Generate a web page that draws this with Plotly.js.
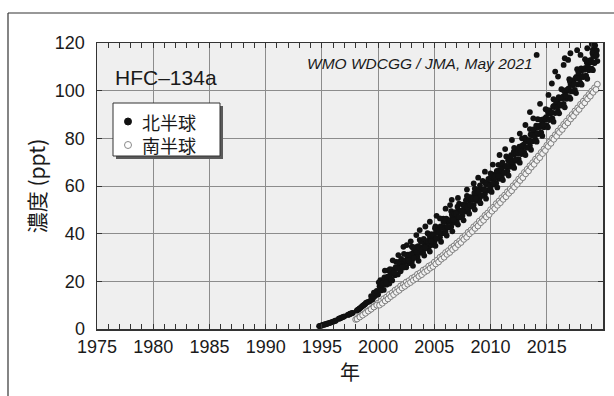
<!DOCTYPE html>
<html>
<head>
<meta charset="utf-8">
<script src="https://cdn.plot.ly/plotly-3.0.1.min.js"></script>
<style>html,body{margin:0;padding:0;background:#fff;}#chart{width:614px;height:396px;}</style>
</head>
<body>
<div id="chart"></div>
<script>
// ---- Data (years, ppt) ----
// Northern hemisphere: core station series
var nhAYear = [1994.75,1994.92,1995.08,1995.25,1995.42,1995.58,1995.75,1995.92,1996.08,1996.25,1996.5,1996.67,1996.83,1997.0,1997.3,1997.45,1997.6,1997.75,1998.1,1998.25,1998.4,1998.55,1998.7,1998.85,1999.0,
1999.25,1999.5,1999.75,2000.0,2000.25,2000.5,2000.75,2001.0,2001.25,2001.5,2001.75,2002.0,2002.25,2002.5,2002.75,2003.0,2003.25,2003.5,2003.75,2004.0,2004.25,2004.5,2004.75,2005.0,2005.25,2005.5,2005.75,2006.0,2006.25,2006.5,2006.75,2007.0,2007.25,2007.5,2007.75,2008.0,2008.25,2008.5,2008.75,2009.0,2009.25,2009.5,2009.75,2010.0,2010.25,2010.5,2010.75,2011.0,2011.25,2011.5,2011.75,2012.0,2012.25,2012.5,2012.75,2013.0,2013.25,2013.5,2013.75,2014.0,2014.25,2014.5,2014.75,2015.0,2015.25,2015.5,2015.75,2016.0,2016.25,2016.5,2016.75,2017.0,2017.25,2017.5,2017.75,2018.0,2018.25,2018.5,2018.75,2019.0,2019.25,2019.5];
var nhAVal = [1.2,1.4,1.7,1.9,2.1,2.4,2.7,2.9,3.2,3.6,4.3,4.6,5.0,5.3,5.9,6.2,6.5,6.8,7.7,8.2,8.8,9.4,10.0,10.5,11.2,
11.6,12.4,13.9,14.5,16.2,16.4,18.6,19.1,20.4,22.6,22.9,24.2,25.8,25.9,27.6,28.3,30.1,30.2,31.9,32.1,33.8,34.3,35.2,36.4,37.9,38.5,40.2,40.8,42.6,42.9,44.6,45.3,46.9,47.5,49.3,49.8,51.4,52.0,53.8,54.3,55.9,56.6,58.1,58.7,60.6,61.2,63.0,63.6,65.5,66.2,68.1,68.6,70.6,71.3,73.4,74.0,76.1,76.9,78.8,79.4,81.8,82.5,84.7,85.4,87.8,88.4,90.6,91.3,93.7,94.4,96.6,97.3,99.7,100.3,102.6,103.2,105.7,106.3,108.6,109.2,111.6,112.4];
// Early record, in-between samples
var nhEarlyYear = [1994.83,1995.0,1995.17,1995.33,1995.5,1995.67,1995.83,1996.0,1996.17,1996.58,1996.75,1996.92,1997.38,1997.52,1997.68,1998.17,1998.33,1998.48,1998.62,1998.78,1998.92,1999.12,1999.38,1999.62,1999.88];
var nhEarlyVal = [1.3,1.5,1.8,2.0,2.3,2.5,2.8,3.1,3.4,4.4,4.8,5.1,6.0,6.4,6.7,8.0,8.5,9.1,9.7,10.2,10.9,11.4,12.2,13.4,14.6];
// Northern hemisphere: second station
var nhBYear = [1999.375,1999.625,1999.875,2000.125,2000.375,2000.625,2000.875,2001.125,2001.375,2001.625,2001.875,2002.125,2002.375,2002.625,2002.875,2003.125,2003.375,2003.625,2003.875,2004.125,2004.375,2004.625,2004.875,2005.125,2005.375,2005.625,2005.875,2006.125,2006.375,2006.625,2006.875,2007.125,2007.375,2007.625,2007.875,2008.125,2008.375,2008.625,2008.875,2009.125,2009.375,2009.625,2009.875,2010.125,2010.375,2010.625,2010.875,2011.125,2011.375,2011.625,2011.875,2012.125,2012.375,2012.625,2012.875,2013.125,2013.375,2013.625,2013.875,2014.125,2014.375,2014.625,2014.875,2015.125,2015.375,2015.625,2015.875,2016.125,2016.375,2016.625,2016.875,2017.125,2017.375,2017.625,2017.875,2018.125,2018.375,2018.625,2018.875,2019.125,2019.375];
var nhBVal = [13.8,15.3,16.0,17.9,18.4,20.5,20.9,23.0,23.4,25.3,25.7,27.8,28.0,29.9,30.2,32.0,32.3,34.1,34.2,36.1,36.3,38.2,38.3,40.3,40.6,42.5,42.8,44.9,45.0,47.1,47.3,49.4,49.6,51.7,51.9,53.9,54.1,56.2,56.3,58.5,58.6,60.7,60.9,63.0,63.3,65.6,65.8,68.1,68.3,70.7,70.8,73.3,73.6,76.0,76.3,78.9,79.1,81.7,81.9,84.5,84.8,87.6,87.9,90.6,90.8,93.6,93.9,96.7,96.8,99.7,99.9,102.7,102.8,105.8,105.9,108.8,108.9,111.8,111.9,114.8,115.0];
// Northern hemisphere: third (higher) station
var nhCYear = [2000.2,2000.55,2000.9,2001.25,2001.6,2001.95,2002.3,2002.65,2003.0,2003.35,2003.7,2004.05,2004.4,2004.75,2005.1,2005.45,2005.8,2006.15,2006.5,2006.85,2007.2,2007.55,2007.9,2008.25,2008.6,2008.95,2009.3,2009.65,2010.0,2010.35,2010.7,2011.05,2011.4,2011.75,2012.1,2012.45,2012.8,2013.15,2013.5,2013.85,2014.2,2014.55,2014.9,2015.25,2015.6,2015.95,2016.3,2016.65,2017.0,2017.35,2017.7,2018.05,2018.4,2018.75,2019.1,2019.45];
var nhCVal = [20.5,21.0,24.6,24.9,28.2,28.0,31.5,31.2,34.6,34.3,37.4,37.0,40.2,39.8,43.0,42.6,46.3,45.9,49.4,49.0,52.6,52.2,55.8,55.3,58.9,58.5,62.1,61.6,65.3,64.9,68.9,68.4,72.4,71.9,76.0,75.6,80.0,79.5,83.9,83.4,88.0,87.6,92.2,91.7,96.4,95.9,100.6,100.1,104.8,104.3,109.0,108.4,113.2,112.6,117.3,116.9];
// Northern hemisphere: lower station
var nhDYear = [2003.1,2003.6,2004.1,2004.6,2005.1,2005.6,2006.1,2006.6,2007.1,2007.6,2008.1,2008.6,2009.1,2009.6,2010.1,2010.6,2011.1,2011.6,2012.1,2012.6,2013.1,2013.6,2014.1,2014.6,2015.1,2015.6,2016.1,2016.6,2017.1,2017.6,2018.1,2018.6,2019.1];
var nhDVal = [26.5,28.6,30.8,32.5,34.9,36.6,39.2,41.0,43.8,45.6,48.4,50.1,52.8,54.7,57.5,59.4,62.5,64.4,67.6,69.8,73.0,75.2,78.6,81.0,84.6,87.0,90.5,93.0,96.6,99.0,102.5,105.0,108.6];
// Northern hemisphere: fourth station
var nhEYear = [2000.06,2000.31,2000.56,2000.81,2001.06,2001.31,2001.56,2001.81,2002.06,2002.31,2002.56,2002.81,2003.06,2003.31,2003.56,2003.81,2004.06,2004.31,2004.56,2004.81,2005.06,2005.31,2005.56,2005.81,2006.06,2006.31,2006.56,2006.81,2007.06,2007.31,2007.56,2007.81,2008.06,2008.31,2008.56,2008.81,2009.06,2009.31,2009.56,2009.81,2010.06,2010.31,2010.56,2010.81,2011.06,2011.31,2011.56,2011.81,2012.06,2012.31,2012.56,2012.81,2013.06,2013.31,2013.56,2013.81,2014.06,2014.31,2014.56,2014.81,2015.06,2015.31,2015.56,2015.81,2016.06,2016.31,2016.56,2016.81,2017.06,2017.31,2017.56,2017.81,2018.06,2018.31,2018.56,2018.81,2019.06,2019.31];
var nhEVal = [19.6,18.9,21.6,21.9,25.1,23.3,26.0,28.0,29.4,28.5,31.1,31.2,34.3,32.3,34.8,36.6,37.8,36.8,39.3,39.3,42.3,40.5,43.1,45.0,46.3,45.4,48.0,48.2,51.3,49.5,52.1,54.0,55.3,54.5,57.1,57.2,60.3,58.4,61.0,63.0,64.3,63.6,66.3,66.6,69.8,68.1,70.8,72.9,74.3,73.7,76.5,76.9,80.3,78.7,81.6,83.8,85.3,84.8,87.8,88.3,91.8,90.3,93.3,95.6,97.3,96.8,99.8,100.3,103.8,102.3,105.3,107.6,109.3,108.8,111.8,112.3,115.8,114.3];
// Northern hemisphere: fifth station
var nhFYear = [2000.19,2000.44,2000.69,2000.94,2001.19,2001.44,2001.69,2001.94,2002.19,2002.44,2002.69,2002.94,2003.19,2003.44,2003.69,2003.94,2004.19,2004.44,2004.69,2004.94,2005.19,2005.44,2005.69,2005.94,2006.19,2006.44,2006.69,2006.94,2007.19,2007.44,2007.69,2007.94,2008.19,2008.44,2008.69,2008.94,2009.19,2009.44,2009.69,2009.94,2010.19,2010.44,2010.69,2010.94,2011.19,2011.44,2011.69,2011.94,2012.19,2012.44,2012.69,2012.94,2013.19,2013.44,2013.69,2013.94,2014.19,2014.44,2014.69,2014.94,2015.19,2015.44,2015.69,2015.94,2016.19,2016.44,2016.69,2016.94,2017.19,2017.44,2017.69,2017.94,2018.19,2018.44,2018.69,2018.94,2019.19,2019.44];
var nhFVal = [16.3,19.3,19.5,22.2,20.8,23.6,25.5,25.2,25.9,28.8,28.8,31.4,29.8,32.4,34.1,33.6,34.2,37.0,36.9,39.4,38.0,40.7,42.5,42.1,42.8,45.7,45.8,48.4,47.0,49.7,51.5,51.1,51.9,54.8,54.8,57.4,55.9,58.6,60.5,60.1,61.0,64.0,64.2,66.9,65.6,68.4,70.4,70.1,71.1,74.2,74.5,77.4,76.2,79.2,81.3,81.1,82.2,85.5,85.9,88.9,87.8,90.9,93.1,93.1,94.2,97.5,97.9,100.9,99.8,102.9,105.1,105.1,106.2,109.5,109.9,112.9,111.8,114.9];
// Northern hemisphere: scattered high values
var nhOutYear = [2000.6,2001.3,2001.8,2002.25,2002.55,2002.9,2003.4,2003.7,2004.2,2004.6,2005.2,2005.5,2006.0,2006.4,2006.55,2007.1,2007.9,2008.5,2008.9,2009.5,2010.2,2010.8,2011.3,2011.9,2012.6,2013.1,2013.5,2013.8,2014.1,2014.4,2015.15,2015.45,2015.75,2016.0,2016.5,2016.6,2016.9,2017.1,2017.7,2018.0,2018.6,2019.0,2019.3];
var nhOutVal = [24.5,28.8,31.0,34.5,35.2,36.8,39.4,41.5,43.0,45.0,47.5,46.4,50.5,52.0,54.2,55.0,58.5,61.1,63.5,66.0,69.0,73.0,75.5,79.3,82.0,85.6,91.0,88.4,115.0,94.5,98.2,103.0,108.0,105.9,110.8,113.6,112.9,115.7,117.0,115.0,117.8,119.6,119.0];

// Southern hemisphere: two stations
var shAYear = [1998.0,1998.25,1998.5,1998.75,1999.0,1999.25,1999.5,1999.75,2000.0,2000.25,2000.5,2000.75,2001.0,2001.25,2001.5,2001.75,2002.0,2002.25,2002.5,2002.75,2003.0,2003.25,2003.5,2003.75,2004.0,2004.25,2004.5,2004.75,2005.0,2005.25,2005.5,2005.75,2006.0,2006.25,2006.5,2006.75,2007.0,2007.25,2007.5,2007.75,2008.0,2008.25,2008.5,2008.75,2009.0,2009.25,2009.5,2009.75,2010.0,2010.25,2010.5,2010.75,2011.0,2011.25,2011.5,2011.75,2012.0,2012.25,2012.5,2012.75,2013.0,2013.25,2013.5,2013.75,2014.0,2014.25,2014.5,2014.75,2015.0,2015.25,2015.5,2015.75,2016.0,2016.25,2016.5,2016.75,2017.0,2017.25,2017.5,2017.75,2018.0,2018.25,2018.5,2018.75,2019.0,2019.25,2019.5];
var shAVal = [4.0,4.9,5.7,6.4,7.4,8.1,9.1,9.8,10.9,11.6,12.7,13.4,14.5,15.2,16.3,17.0,18.1,18.7,19.7,20.3,21.3,21.9,23.0,23.6,24.7,25.3,26.4,27.0,28.1,28.9,30.1,30.9,32.1,32.9,34.1,34.9,36.1,37.0,38.3,39.2,40.6,41.5,42.9,43.9,45.3,46.3,47.7,48.7,50.1,51.1,52.6,53.7,55.1,56.2,57.6,58.7,60.1,61.4,62.9,64.2,65.7,67.0,68.5,69.8,71.3,72.6,74.1,75.5,77.1,78.5,80.1,81.5,83.1,84.4,85.9,87.2,88.7,90.0,91.5,92.8,94.3,95.6,97.1,98.4,99.9,101.2,102.7];
var shBYear = [1998.125,1998.375,1998.625,1998.875,1999.125,1999.375,1999.625,1999.875,2000.125,2000.375,2000.625,2000.875,2001.125,2001.375,2001.625,2001.875,2002.125,2002.375,2002.625,2002.875,2003.125,2003.375,2003.625,2003.875,2004.125,2004.375,2004.625,2004.875,2005.125,2005.375,2005.625,2005.875,2006.125,2006.375,2006.625,2006.875,2007.125,2007.375,2007.625,2007.875,2008.125,2008.375,2008.625,2008.875,2009.125,2009.375,2009.625,2009.875,2010.125,2010.375,2010.625,2010.875,2011.125,2011.375,2011.625,2011.875,2012.125,2012.375,2012.625,2012.875,2013.125,2013.375,2013.625,2013.875,2014.125,2014.375,2014.625,2014.875,2015.125,2015.375,2015.625,2015.875,2016.125,2016.375,2016.625,2016.875,2017.125,2017.375,2017.625,2017.875,2018.125,2018.375,2018.625,2018.875,2019.125,2019.375];
var shBVal = [4.2,5.0,5.8,6.6,7.5,8.3,9.2,10.0,10.0,10.8,11.8,12.6,13.6,14.4,15.4,16.2,17.2,17.9,18.8,19.5,20.4,21.1,22.1,22.8,23.8,24.5,25.5,26.2,27.3,28.1,29.3,30.1,31.3,32.1,33.3,34.1,35.4,36.3,37.6,38.5,39.9,40.9,42.2,43.2,44.6,45.6,47.0,48.0,49.4,50.5,51.9,53.0,54.4,55.5,56.9,58.0,59.5,60.7,62.3,63.5,65.1,66.3,67.9,69.1,70.7,71.9,73.6,74.9,76.6,77.9,79.6,80.9,82.5,83.7,85.3,86.5,88.1,89.3,90.9,92.1,93.7,94.9,96.5,97.7,99.3,100.5];

// Axis ticks and labels
var xTickVals = [1975,1980,1985,1990,1995,2000,2005,2010,2015];
var xTickText = ['1975','1980','1985','1990','1995','2000','2005','2010','2015'];
var yTickVals = [0,20,40,60,80,100,120];
var seriesNames = ['北半球','南半球'];
var compound = 'HFC\u2013134a';
var credit = 'WMO WDCGG / JMA, May 2021';
var xTitle = '年';
var yTitle = '濃度 (ppt)';

var latin = 'Liberation Sans, Arial, Helvetica, sans-serif';
var cjk = 'Noto Sans CJK JP, Liberation Sans, sans-serif';

// plot area in pixels: left 97, right 603, top 43, bottom 329
var L = 97, R = 603, T = 43, B = 329;
function px(x){ return (x - L) / (R - L); }
function py(y){ return (B - y) / (B - T); }

var nh = {
  type: 'scatter', mode: 'markers', name: seriesNames[0], showlegend: false,
  x: nhAYear.concat(nhEarlyYear, nhBYear, nhCYear, nhDYear, nhEYear, nhFYear, nhOutYear),
  y: nhAVal.concat(nhEarlyVal, nhBVal, nhCVal, nhDVal, nhEVal, nhFVal, nhOutVal),
  marker: {symbol: 'circle', size: 5.8, color: '#111111', line: {width: 0}},
  cliponaxis: true
};
var sh = {
  type: 'scatter', mode: 'markers', name: seriesNames[1], showlegend: false,
  x: shAYear.concat(shBYear),
  y: shAVal.concat(shBVal),
  marker: {symbol: 'circle', size: 5.8, color: '#f2f2f2', line: {width: 1, color: '#7c7c7c'}},
  cliponaxis: true
};

var layout = {
  width: 614, height: 396,
  margin: {l: L, r: 614 - R, t: T, b: 396 - B, pad: 0},
  paper_bgcolor: '#ffffff',
  plot_bgcolor: '#efefef',
  showlegend: false,
  font: {family: latin, color: '#1a1a1a', size: 18},
  xaxis: {
    range: [1975, 2020], tickmode: 'array', tickvals: xTickVals, ticktext: xTickText,
    ticks: 'inside', ticklen: 5, tickwidth: 1, tickcolor: '#333',
    minor: {tickmode: 'linear', tick0: 1975, dtick: 1, ticks: 'inside', ticklen: 5, tickwidth: 1, tickcolor: '#333', showgrid: false},
    showgrid: true, gridcolor: '#8c8c8c', gridwidth: 1,
    showline: true, linecolor: '#333', linewidth: 1.5, mirror: 'ticks',
    zeroline: false, tickfont: {size: 18, family: latin, color: '#1a1a1a'},
    ticklabelstandoff: 1
  },
  yaxis: {
    range: [0, 120], tickmode: 'array', tickvals: yTickVals,
    ticks: 'inside', ticklen: 5, tickwidth: 1, tickcolor: '#333',
    showgrid: true, gridcolor: '#8c8c8c', gridwidth: 1,
    showline: true, linecolor: '#333', linewidth: 1.5, mirror: 'ticks',
    zeroline: false, tickfont: {size: 18, family: latin, color: '#1a1a1a'},
    ticklabelstandoff: 7,
    title: {text: yTitle, font: {family: cjk, size: 21, color: '#1a1a1a'}, standoff: 3}
  },
  shapes: [
    // outer frame (left and top edges)
    {type: 'line', xref: 'paper', yref: 'paper', x0: px(8), x1: px(8), y0: py(13), y1: py(400), line: {color: '#333', width: 1.2}},
    {type: 'line', xref: 'paper', yref: 'paper', x0: px(8), x1: px(620), y0: py(13), y1: py(13), line: {color: '#333', width: 1.2}},
    // legend shadow and box
    {type: 'rect', xref: 'paper', yref: 'paper', x0: px(116), x1: px(223), y0: py(159), y1: py(106), fillcolor: '#5a5a5a', line: {width: 0}, layer: 'above'},
    {type: 'rect', xref: 'paper', yref: 'paper', x0: px(113), x1: px(220), y0: py(156), y1: py(103), fillcolor: '#ffffff', line: {color: '#333', width: 1}, layer: 'above'},
    // legend symbols
    {type: 'circle', xref: 'paper', yref: 'paper', xsizemode: 'pixel', ysizemode: 'pixel', xanchor: px(128), yanchor: py(121.5), x0: -3.5, x1: 3.5, y0: -3.5, y1: 3.5, fillcolor: '#111111', line: {color: '#111111', width: 1}, layer: 'above'},
    {type: 'circle', xref: 'paper', yref: 'paper', xsizemode: 'pixel', ysizemode: 'pixel', xanchor: px(128), yanchor: py(145), x0: -3.5, x1: 3.5, y0: -3.5, y1: 3.5, fillcolor: '#ffffff', line: {color: '#8a8a8a', width: 1}, layer: 'above'}
  ],
  annotations: [
    {xref: 'paper', yref: 'paper', x: px(113), y: py(77), xanchor: 'left', yanchor: 'middle', showarrow: false, text: compound, font: {family: latin, size: 21, color: '#1a1a1a'}},
    {xref: 'paper', yref: 'paper', x: px(535), y: py(63.5), xanchor: 'right', yanchor: 'middle', showarrow: false, text: credit, font: {family: latin, size: 15.5, color: '#1a1a1a', style: 'italic'}},
    {xref: 'paper', yref: 'paper', x: px(140), y: py(133.3), xanchor: 'left', yanchor: 'middle', align: 'left', showarrow: false, text: seriesNames[0] + '<br>' + seriesNames[1], font: {family: cjk, size: 18, color: '#1a1a1a'}},
    // x-axis title
    {xref: 'paper', yref: 'paper', x: 0.5, y: py(371), xanchor: 'center', yanchor: 'middle', showarrow: false, text: xTitle, font: {family: cjk, size: 20, color: '#1a1a1a'}}
  ]
};

Plotly.newPlot('chart', [nh, sh], layout, {displayModeBar: false, staticPlot: true});
</script>
</body>
</html>
